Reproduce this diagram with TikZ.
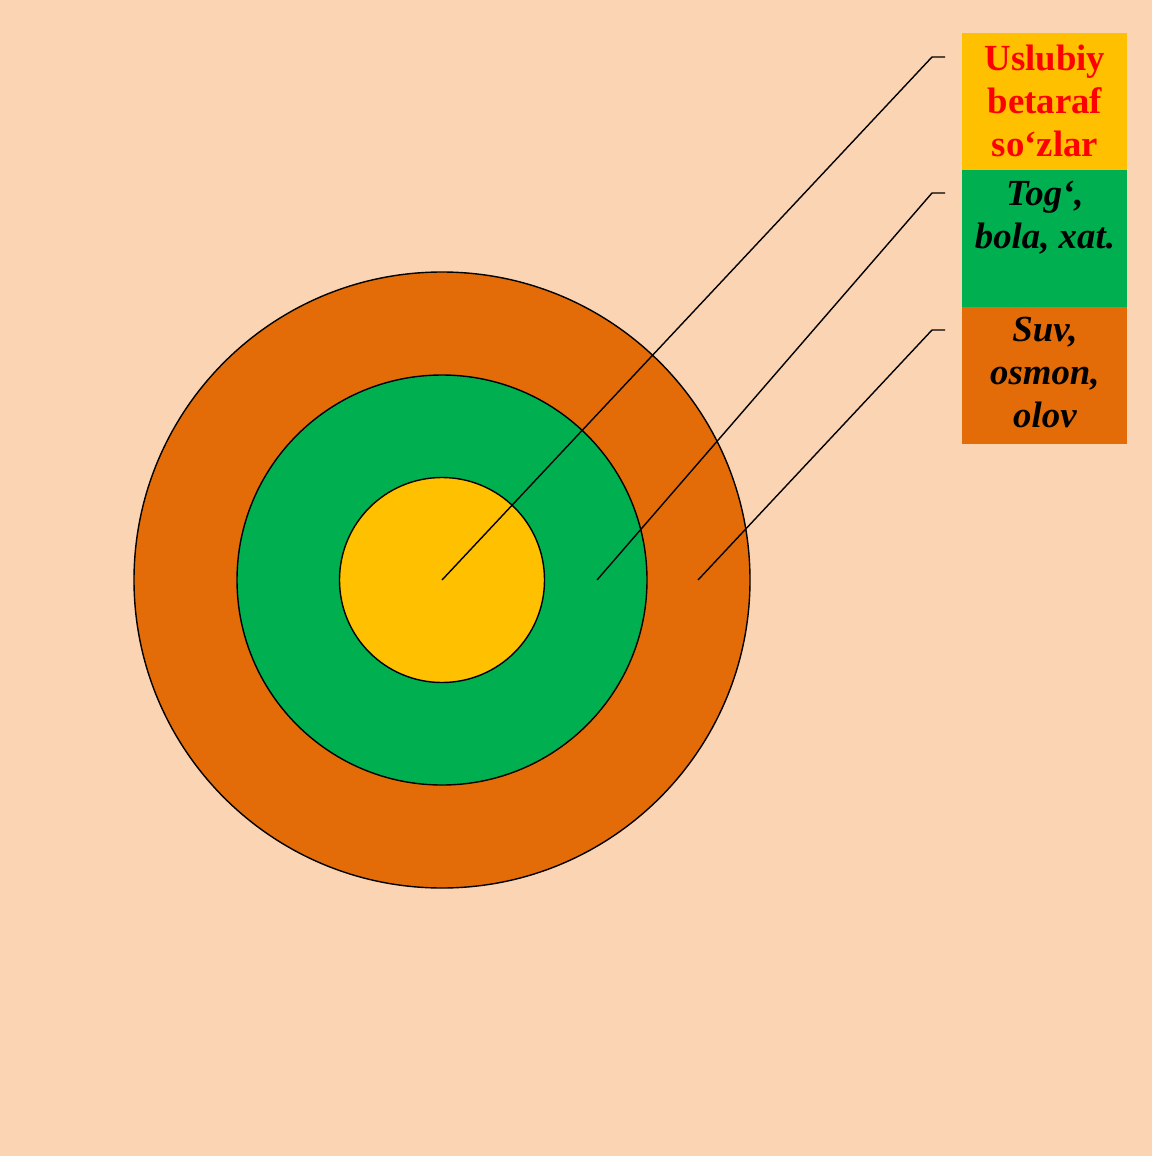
\documentclass[tikz,border=0pt]{standalone}
\usepackage{fontspec}
\setmainfont{Liberation Serif}
\usetikzlibrary{calc}
\definecolor{peach}{HTML}{FBD4B4}
\definecolor{ringorange}{HTML}{E36C09}
\definecolor{ringgreen}{HTML}{00B050}
\definecolor{ringyellow}{HTML}{FFC000}
\definecolor{txtred}{HTML}{FF0000}
\tikzset{
  ring/.style={circle,draw=black,line width=0.7pt,inner sep=0pt},
  leader/.style={draw=black,line width=0.7pt},
  labelbox/.style={rectangle,inner sep=0pt,minimum width=82.5pt,minimum height=68.5pt,anchor=north west},
  labeltext/.style={anchor=north,inner sep=0pt,align=center,font=\fontsize{18.4}{21.5}\selectfont\bfseries},
}
\begin{document}
\begin{tikzpicture}[x=0.5pt,y=-0.5pt]
\fill[peach] (0,0) rectangle (1152,1156);
\useasboundingbox (0,0) rectangle (1152,1156);
\coordinate (c) at (442,580);
\node[ring,fill=ringorange,minimum size=308pt] (outer) at (c) {};
\node[ring,fill=ringgreen,minimum size=205pt] (middle) at (c) {};
\node[ring,fill=ringyellow,minimum size=102.5pt] (inner) at (c) {};
\coordinate (s2) at (597,580);
\coordinate (s3) at (698,580);
\coordinate (k1) at (932,57);
\coordinate (e1) at (945,57);
\coordinate (k2) at (932,193);
\coordinate (e2) at (945,193);
\coordinate (k3) at (932,330);
\coordinate (e3) at (945,330);
\draw[leader] (c) -- (k1) -- (e1);
\draw[leader] (s2) -- (k2) -- (e2);
\draw[leader] (s3) -- (k3) -- (e3);
\node[labelbox,fill=ringyellow] (b1) at (962,33) {};
\node[labelbox,fill=ringgreen] (b2) at (962,170) {};
\node[labelbox,fill=ringorange] (b3) at (962,307) {};
\node[labeltext,text=txtred] (t1) at ($(b1.north)+(0pt,-3.45pt)$) {\strut Uslubiy\\betaraf\\so‘zlar};
\node[labeltext,text=black,font=\fontsize{18.4}{21.5}\selectfont\bfseries\itshape] (t2) at ($(b2.north)+(0pt,-2.45pt)$) {\strut Tog‘,\\bola, xat.};
\node[labeltext,text=black,font=\fontsize{18.4}{21.5}\selectfont\bfseries\itshape] (t3) at ($(b3.north)+(0pt,-1.95pt)$) {\strut Suv,\\osmon,\\olov};
\end{tikzpicture}
\end{document}
